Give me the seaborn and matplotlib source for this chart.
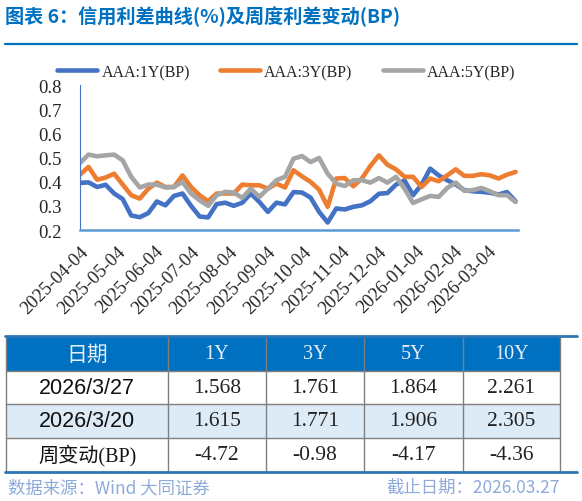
import pandas as pd
import numpy as np
import matplotlib
matplotlib.use("Agg")
import matplotlib.pyplot as plt
import matplotlib.dates as mdates
from matplotlib.patches import Rectangle
from matplotlib.lines import Line2D
import seaborn as sns

# weekly observations, 2025-04-04 .. 2026-03-27
dates = pd.date_range("2025-04-04", "2026-03-27", freq="7D")

aaa_1y = [0.395, 0.397, 0.378, 0.387, 0.351, 0.328, 0.260, 0.253, 0.270, 0.318,
          0.302, 0.341, 0.351, 0.300, 0.256, 0.252, 0.307, 0.313, 0.300, 0.313,
          0.351, 0.316, 0.275, 0.313, 0.306, 0.357, 0.355, 0.334, 0.275, 0.231,
          0.289, 0.285, 0.296, 0.302, 0.319, 0.350, 0.353, 0.388, 0.405, 0.344,
          0.388, 0.454, 0.426, 0.406, 0.388, 0.365, 0.360, 0.358, 0.354, 0.347,
          0.357, 0.319]
aaa_3y = [0.429, 0.461, 0.408, 0.417, 0.433, 0.388, 0.344, 0.330, 0.371, 0.396,
          0.378, 0.378, 0.426, 0.378, 0.344, 0.319, 0.351, 0.351, 0.351, 0.388,
          0.385, 0.385, 0.371, 0.392, 0.376, 0.447, 0.422, 0.399, 0.367, 0.296,
          0.413, 0.415, 0.381, 0.413, 0.465, 0.509, 0.470, 0.451, 0.420, 0.420,
          0.378, 0.413, 0.402, 0.426, 0.451, 0.424, 0.424, 0.431, 0.426, 0.413,
          0.429, 0.440]
aaa_5y = [0.477, 0.512, 0.505, 0.509, 0.512, 0.488, 0.420, 0.376, 0.388, 0.388,
          0.376, 0.378, 0.399, 0.351, 0.323, 0.300, 0.344, 0.358, 0.355, 0.333,
          0.371, 0.337, 0.371, 0.406, 0.420, 0.495, 0.506, 0.481, 0.498, 0.433,
          0.392, 0.382, 0.406, 0.406, 0.396, 0.415, 0.396, 0.420, 0.371, 0.312,
          0.327, 0.341, 0.337, 0.374, 0.396, 0.362, 0.365, 0.374, 0.360, 0.344,
          0.344, 0.316]

series_names = ["AAA:1Y(BP)", "AAA:3Y(BP)", "AAA:5Y(BP)"]
series_colors = ["#4472C4", "#ED7D31", "#A5A5A5"]

# table contents
table_header = ["日期", "1Y", "3Y", "5Y", "10Y"]
table_rows = [
    ["2026/3/27", "1.568", "1.761", "1.864", "2.261"],
    ["2026/3/20", "1.615", "1.771", "1.906", "2.305"],
    ["周变动(BP)", "-4.72", "-0.98", "-4.17", "-4.36"],
]

title_text = "图表 6：信用利差曲线(%)及周度利差变动(BP)"
source_text = "数据来源：Wind 大同证券"
date_text = "截止日期：2026.03.27"

sns.set_style("white")
plt.rcParams["font.family"] = ["Noto Sans CJK SC", "DejaVu Sans"]
serif = ["Liberation Serif", "Noto Sans CJK SC"]

df = pd.DataFrame({"date": dates, series_names[0]: aaa_1y,
                   series_names[1]: aaa_3y, series_names[2]: aaa_5y})
long_df = df.melt(id_vars="date", var_name="series", value_name="spread")

W, H = 582, 502
fig = plt.figure(figsize=(W / 100, H / 100), dpi=100)

# main chart
ax = fig.add_axes([80 / W, 1 - 231 / H, (518 - 80) / W, (231 - 86) / H])
sns.lineplot(data=long_df, x="date", y="spread", hue="series",
             palette=series_colors, linewidth=3.3, ax=ax, legend=False)
ax.set_xlim(dates[0], dates[-1] + pd.Timedelta(days=2))
ax.set_ylim(0.2, 0.8)
yt = np.arange(0.2, 0.81, 0.1)
ax.set_yticks(yt)
ax.set_yticklabels([f"{v:.1f}" for v in yt], family=serif, fontsize=13.5)
ax.xaxis.set_major_locator(mdates.MonthLocator(bymonthday=4))
ax.xaxis.set_major_formatter(mdates.DateFormatter("%Y-%m-%d"))
for lab in ax.get_xticklabels():
    lab.set_rotation(45)
    lab.set_ha("right")
    lab.set_va("top")
    lab.set_rotation_mode("anchor")
    lab.set_family(serif)
    lab.set_fontsize(13.5)
ax.set_xlabel("")
ax.set_ylabel("")
for s in ["top", "right"]:
    ax.spines[s].set_visible(False)
ax.spines["left"].set_color("#4472C4")
ax.spines["bottom"].set_color("#5B9BD5")
ax.spines["bottom"].set_linewidth(1.8)
ax.tick_params(axis="x", direction="out", length=4, color="#5B9BD5", pad=5)
ax.tick_params(axis="y", direction="out", length=3, color="#4472C4", pad=10)

handles = [Line2D([], [], color=c, lw=3.3) for c in series_colors]
fig.legend(handles, series_names, loc="center", bbox_to_anchor=(0.492, 1 - 73 / H),
           ncol=3, frameon=False, handlelength=2.5, columnspacing=1.9,
           handletextpad=0.25, prop={"family": serif, "size": 11.5})

# overlay for title, table and footer (pixel coordinates)
ov = fig.add_axes([0, 0, 1, 1])
ov.set_xlim(0, W)
ov.set_ylim(H, 0)
ov.axis("off")
ov.patch.set_alpha(0)

ov.text(5, 17, title_text, color="#0070C0", fontsize=13.8, fontweight="bold",
        va="center", ha="left")
ov.plot([5, 577], [45, 45], color="#0070C0", lw=1.6)

col_x = [6, 168, 266, 364, 463, 560]
row_y = [338, 372, 405, 439, 472]
row_bg = ["#0070C0", "white", "#DDEBF7", "white"]
for r in range(4):
    ov.add_patch(Rectangle((col_x[0], row_y[r]), col_x[-1] - col_x[0],
                           row_y[r + 1] - row_y[r], facecolor=row_bg[r],
                           edgecolor="none"))
for x in col_x:
    ov.plot([x, x], [row_y[0], row_y[-1]], color="#7F7F7F", lw=1)
for y in row_y[1:-1]:
    ov.plot([col_x[0], col_x[-1]], [y, y], color="#7F7F7F", lw=1)
ov.plot([5, 577], [337, 337], color="#2E75B6", lw=2)
ov.plot([5, 577], [473, 473], color="#2E75B6", lw=2)

for c in range(5):
    cx = (col_x[c] + col_x[c + 1]) / 2
    cy = (row_y[0] + row_y[1]) / 2
    fam = ["Noto Sans CJK SC"] if c == 0 else serif
    ov.text(cx, cy, table_header[c], color="#E6EEF8", fontsize=15 if c == 0 else 14.5,
            ha="center", va="center", family=fam)
for r, row in enumerate(table_rows):
    cy = (row_y[r + 1] + row_y[r + 2]) / 2
    for c, val in enumerate(row):
        cx = (col_x[c] + col_x[c + 1]) / 2
        if c == 0:
            fam = ["Liberation Sans", "Noto Sans CJK SC"] if r < 2 else serif
            ov.text(cx, cy, val, fontsize=15.5 if r < 2 else 14.5, ha="center",
                    va="center", family=fam, color="#111111")
        else:
            ov.text(cx, cy, val, fontsize=15.5, ha="center", va="center",
                    family=serif, color="#222222")

ov.text(8, 488, source_text, color="#8EAADB", fontsize=12.5, style="italic",
        ha="left", va="center")
ov.text(560, 488, date_text, color="#8EAADB", fontsize=12.5, style="italic",
        ha="right", va="center")

fig.savefig("out.png", dpi=100)
